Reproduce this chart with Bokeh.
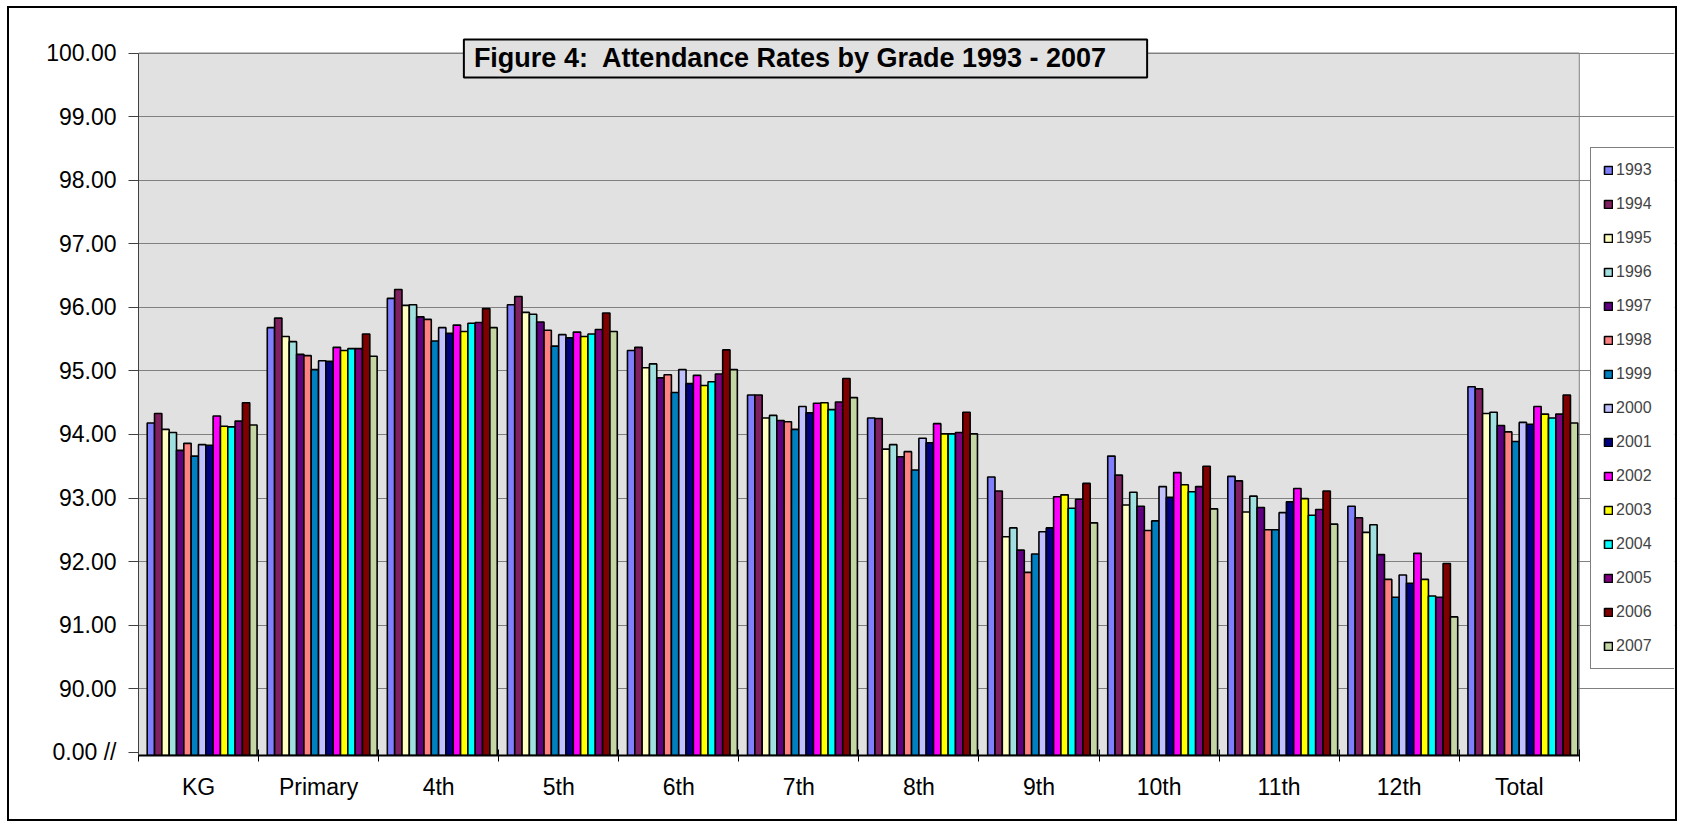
from bokeh.plotting import figure
from bokeh.models import (ColumnDataSource, FixedTicker, Legend, LegendItem, Label,
                          Range1d, PrintfTickFormatter)
from bokeh.embed import file_html
from bokeh.resources import INLINE

grades = ["KG", "Primary", "4th", "5th", "6th", "7th", "8th", "9th", "10th", "11th", "12th", "Total"]
years = ["1993", "1994", "1995", "1996", "1997", "1998", "1999", "2000",
         "2001", "2002", "2003", "2004", "2005", "2006", "2007"]

y1993 = [94.18, 95.68, 96.14, 96.04, 95.32, 94.62, 94.26, 93.33, 93.66, 93.34, 92.87, 94.75]
y1994 = [94.33, 95.83, 96.28, 96.17, 95.37, 94.62, 94.25, 93.11, 93.36, 93.27, 92.69, 94.72]
y1995 = [94.08, 95.54, 96.03, 95.92, 95.05, 94.26, 93.77, 92.39, 92.89, 92.78, 92.46, 94.33]
y1996 = [94.03, 95.46, 96.04, 95.89, 95.11, 94.30, 93.84, 92.53, 93.09, 93.03, 92.58, 94.35]
y1997 = [93.75, 95.26, 95.85, 95.77, 94.89, 94.22, 93.65, 92.18, 92.87, 92.85, 92.11, 94.14]
y1998 = [93.86, 95.24, 95.81, 95.64, 94.94, 94.20, 93.73, 91.83, 92.49, 92.50, 91.72, 94.04]
y1999 = [93.66, 95.02, 95.47, 95.39, 94.66, 94.08, 93.44, 92.12, 92.64, 92.50, 91.44, 93.89]
y2000 = [93.84, 95.16, 95.68, 95.57, 95.02, 94.44, 93.94, 92.47, 93.18, 92.77, 91.79, 94.19]
y2001 = [93.83, 95.15, 95.59, 95.52, 94.80, 94.34, 93.87, 92.53, 93.01, 92.94, 91.66, 94.16]
y2002 = [94.29, 95.37, 95.72, 95.61, 94.93, 94.49, 94.17, 93.02, 93.40, 93.15, 92.13, 94.44]
y2003 = [94.13, 95.32, 95.62, 95.54, 94.77, 94.50, 94.01, 93.05, 93.21, 92.99, 91.72, 94.32]
y2004 = [94.12, 95.35, 95.75, 95.58, 94.83, 94.39, 94.01, 92.84, 93.10, 92.73, 91.46, 94.26]
y2005 = [94.21, 95.35, 95.76, 95.65, 94.95, 94.51, 94.03, 92.98, 93.18, 92.82, 91.44, 94.32]
y2006 = [94.50, 95.58, 95.98, 95.91, 95.33, 94.88, 94.35, 93.23, 93.50, 93.11, 91.97, 94.62]
y2007 = [94.15, 95.23, 95.68, 95.62, 95.02, 94.58, 94.01, 92.61, 92.83, 92.59, 91.13, 94.18]

series = [y1993, y1994, y1995, y1996, y1997, y1998, y1999, y2000,
          y2001, y2002, y2003, y2004, y2005, y2006, y2007]

colors = ["#8080FF", "#802060", "#FFFFC0", "#A0E0E0", "#600080", "#FF8080", "#0080C0",
          "#C0C0FF", "#000080", "#FF00FF", "#FFFF00", "#00FFFF", "#800080", "#800000",
          "#C4D6A4"]

y_ticks = [90, 91, 92, 93, 94, 95, 96, 97, 98, 99, 100]
break_tick = 89
break_label = "0.00 //"
title_text = "Figure 4:\u00a0 Attendance Rates by Grade 1993 - 2007"

FONT = "Liberation Sans"
Y_MIN, Y_MAX, Y_TOP = 88.95, 100, 100.26
X_MIN, X_MAX, X_RIGHT = 0.5, 12.5, 13.293

p = figure(width=1670, height=815, output_backend="svg", toolbar_location=None,
           x_range=Range1d(X_MIN, X_RIGHT), y_range=Range1d(Y_MIN, Y_TOP),
           min_border_left=129, min_border_right=5, min_border_top=28,
           min_border_bottom=68)
p.styles = {"border": "2px solid black", "margin-left": "7px", "margin-top": "6px"}
p.background_fill_color = "white"
p.border_fill_color = "white"
p.outline_line_color = None

# plot area (grey panel up to 100)
p.quad(left=X_MIN, right=X_MAX, bottom=Y_MIN, top=Y_MAX, fill_color="#E1E1E1",
       line_color="#808080", line_width=1, level="image")

n = len(series)
bw = 0.061
items = []
centers = list(range(1, len(grades) + 1))
for i, (vals, col, yr) in enumerate(zip(series, colors, years)):
    xs = [c + 0.03 + (i - (n - 1) / 2) * bw for c in centers]
    src = ColumnDataSource(dict(x=xs, top=vals, g=grades))
    r = p.vbar(x="x", top="top", bottom=85, width=bw, source=src,
               fill_color=col, line_color="black", line_width=1.6)
    items.append(LegendItem(label=yr, renderers=[r]))

# x axis
p.xaxis.bounds = (X_MIN, X_MAX)
p.xaxis.ticker = FixedTicker(ticks=centers, minor_ticks=[c + 0.5 for c in range(0, 13)])
p.xaxis.major_label_overrides = {c: g for c, g in zip(centers, grades)}
p.xaxis.major_tick_line_color = None
p.xaxis.major_tick_out = 0
p.xaxis.major_tick_in = 0
p.xaxis.minor_tick_line_color = "black"
p.xaxis.minor_tick_out = 6
p.xaxis.minor_tick_in = 6
p.xaxis.axis_line_color = "black"
p.xaxis.axis_line_width = 2
p.xaxis.major_label_standoff = 12
p.xaxis.major_label_text_font = FONT
p.xaxis.major_label_text_font_size = "23px"
p.xaxis.major_label_text_color = "black"

# y axis
p.yaxis.bounds = (Y_MIN, Y_MAX)
p.yaxis.ticker = FixedTicker(ticks=[break_tick] + y_ticks, minor_ticks=[])
p.yaxis.formatter = PrintfTickFormatter(format="%.2f")
p.yaxis.major_label_overrides = {break_tick: break_label}
p.yaxis.major_tick_out = 10
p.yaxis.major_tick_in = 0
p.yaxis.major_tick_line_color = "#404040"
p.yaxis.axis_line_color = "#404040"
p.yaxis.major_label_standoff = 12
p.yaxis.major_label_text_font = FONT
p.yaxis.major_label_text_font_size = "23px"
p.yaxis.major_label_text_color = "black"

p.xgrid.visible = False
p.ygrid.ticker = FixedTicker(ticks=y_ticks)
p.ygrid.grid_line_color = "#808080"
p.ygrid.grid_line_width = 1
p.ygrid.bounds = (X_MIN, X_MAX)

# title box
p.add_layout(Label(x=3.21, y=99.915, text=title_text,
                   text_font=FONT, text_font_style="bold", text_font_size="27px",
                   text_align="left", text_baseline="middle", text_color="black",
                   background_fill_color="#E1E1E1", border_line_color="black",
                   border_line_width=2, padding=dict(top=4, right=40, bottom=4, left=10)))

legend = Legend(items=items, location=(1452, 86), orientation="vertical",
                glyph_width=10, glyph_height=10, label_height=20, spacing=14,
                padding=12, label_width=46, label_standoff=3,
                label_text_font=FONT, label_text_font_size="16px",
                border_line_color="black", border_line_width=1,
                background_fill_color="white", background_fill_alpha=1.0)
p.add_layout(legend, "center")

open("out.html", "w").write(file_html(p, INLINE))
